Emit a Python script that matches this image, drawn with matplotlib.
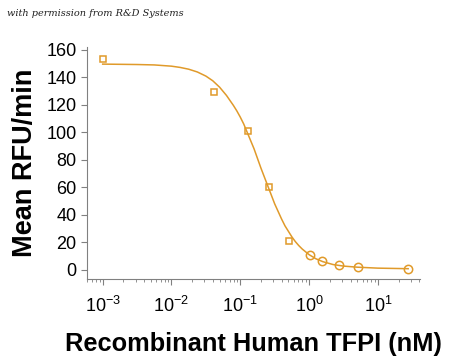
import numpy as np
import matplotlib.pyplot as plt

plt.rcParams['font.family'] = ['Liberation Sans', 'DejaVu Sans']
plt.rcParams['mathtext.fontset'] = 'custom'
plt.rcParams['mathtext.rm'] = 'Liberation Sans'
plt.rcParams['mathtext.it'] = 'Liberation Sans'

# measured points (nM, mean RFU/min)
conc_sq = [0.001, 0.041, 0.13, 0.26, 0.51]
rfu_sq = [153, 129, 101, 60, 21]
conc_ci = [1.04, 1.55, 2.7, 5.2, 27.5]
rfu_ci = [11, 6.5, 3.6, 2.2, 0.7]

# fitted curve (log10 of nM, RFU/min)
curve_logx = [-3.0, -2.5, -2.25, -2.0, -1.875, -1.75, -1.625, -1.5, -1.4,
              -1.3, -1.2, -1.1, -1.05, -1.0, -0.95,
              -0.9, -0.85, -0.8, -0.75, -0.7, -0.65, -0.6, -0.55, -0.5,
              -0.45, -0.4, -0.35, -0.3, -0.25, -0.2, -0.15, -0.1, 0.0,
              0.1, 0.2, 0.35, 0.5, 0.7, 1.0, 1.44]
curve_y = [149.5, 149.2, 148.9, 148.0, 147.1, 145.8, 143.8, 140.8, 137.4,
           132.7, 126.7, 119.5, 115.5, 111.0, 106.0,
           100.0, 94.0, 88.0, 81.0, 74.0, 67.5, 61.0, 54.5, 48.0,
           42.5, 37.0, 32.0, 28.0, 24.0, 20.6, 17.7, 15.2, 11.1,
           8.1, 6.0, 3.9, 2.8, 2.0, 1.3, 0.9]

orange = '#E09A2A'
gray = '#808080'

fig = plt.figure(figsize=(4.5, 3.58), dpi=100)
ax = fig.add_axes([0.193, 0.221, 0.74, 0.648])

ax.plot([10 ** v for v in curve_logx], curve_y, color=orange, lw=1.1)
ax.plot(conc_sq, rfu_sq, 's', ms=5, mfc='none', mec=orange, mew=1.1)
ax.plot(conc_ci, rfu_ci, 'o', ms=6, mfc='none', mec=orange, mew=1.1)

ax.set_xscale('log')
ax.set_xlim(10 ** -3.23, 10 ** 1.61)
ax.set_ylim(-6.5, 162)
ax.set_yticks(range(0, 161, 20))
ax.set_xticks([1e-3, 1e-2, 1e-1, 1e0, 1e1])

for s in ['top', 'right']:
    ax.spines[s].set_visible(False)
for s in ['left', 'bottom']:
    ax.spines[s].set_color(gray)
ax.tick_params(which='both', colors=gray, labelcolor='black', direction='out',
               labelsize=13)
ax.tick_params(which='major', length=4)
ax.tick_params(which='minor', length=2)
ax.tick_params(axis='x', pad=8)

ax.set_ylabel('Mean RFU/min', fontsize=19.5, fontweight='bold', labelpad=6)
ax.set_xlabel('Recombinant Human TFPI (nM)', fontsize=18.3, fontweight='bold',
              labelpad=12)

fig.text(0.015, 0.955, 'with permission from R&D Systems', fontsize=7,
         style='italic', family='DejaVu Serif', color='#202020')

fig.savefig('out.png', dpi=100)
